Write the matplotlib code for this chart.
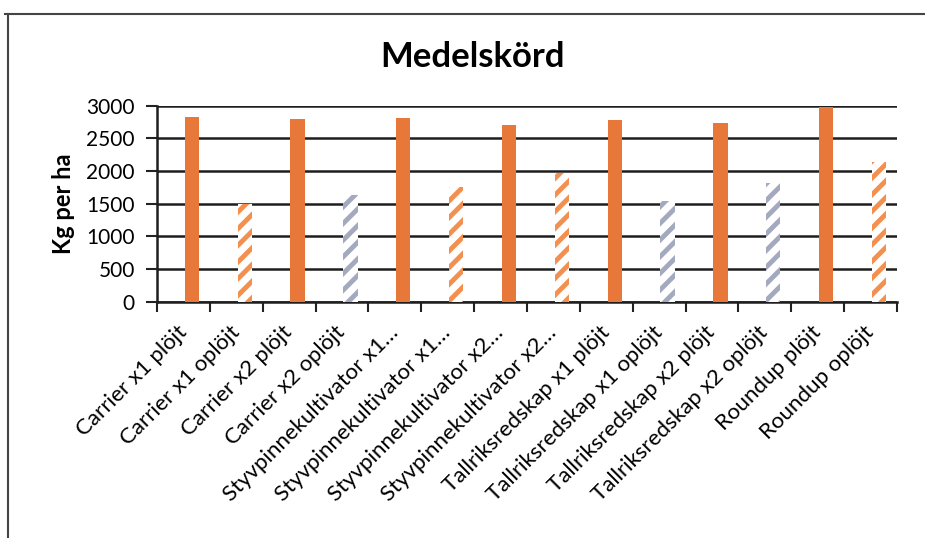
import matplotlib
matplotlib.use('Agg')
from matplotlib import pyplot as plt
from matplotlib.lines import Line2D

# average yield per treatment, kg per ha
labels = ['Carrier x1 plöjt', 'Carrier x1 oplöjt', 'Carrier x2 plöjt', 'Carrier x2 oplöjt',
          'Styvpinnekultivator x1…', 'Styvpinnekultivator x1…',
          'Styvpinnekultivator x2…', 'Styvpinnekultivator x2…',
          'Tallriksredskap x1 plöjt', 'Tallriksredskap x1 oplöjt',
          'Tallriksredskap x2 plöjt', 'Tallriksredskap x2 oplöjt',
          'Roundup plöjt', 'Roundup oplöjt']
yields = [2830, 1500, 2790, 1640, 2810, 1750, 2710, 1970, 2780, 1540, 2740, 1810, 2980, 2140]
bar_kind = ['solid', 'orange', 'solid', 'grey', 'solid', 'orange', 'solid', 'orange',
            'solid', 'grey', 'solid', 'grey', 'solid', 'orange']

plt.rcParams['font.family'] = ['Lato', 'DejaVu Sans']
plt.rcParams['hatch.linewidth'] = 3.5

fig = plt.figure(figsize=(9.25, 5.38), dpi=100)
ax = fig.add_axes([157 / 925, 1 - 301.7 / 538, 740 / 925, 196 / 538])

styles = {
    'solid': dict(color='#E8783A'),
    'orange': dict(facecolor='white', edgecolor='#F39050', hatch='//', linewidth=0),
    'grey': dict(facecolor='white', edgecolor='#A3AAC0', hatch='//', linewidth=0),
}

for i, (v, kind) in enumerate(zip(yields, bar_kind)):
    ax.bar(i + 0.16, v, width=0.27, zorder=3, **styles[kind])

ax.set_xlim(-0.5, len(labels) - 0.5)
ax.set_ylim(0, 3000)
ax.set_yticks(range(0, 3001, 500))
ax.yaxis.grid(True, color='#1E1E1E', linewidth=1.8, zorder=0)
ax.set_axisbelow(True)

# ticks between categories, labels under the centres
ax.set_xticks([i - 0.5 for i in range(len(labels) + 1)])
ax.set_xticklabels([])
ax.set_xticks(range(len(labels)), minor=True)
ax.set_xticklabels(labels, minor=True, rotation=45, ha='right', va='center',
                   rotation_mode='anchor', fontsize=16)
ax.tick_params(axis='x', which='major', length=7, width=1.5, color='#222222')
ax.tick_params(axis='x', which='minor', length=0, pad=20)
ax.tick_params(axis='y', length=8, width=1.5, color='#222222', labelsize=15, pad=8)

for s in ['top', 'right']:
    ax.spines[s].set_visible(False)
for s in ['left', 'bottom']:
    ax.spines[s].set_linewidth(1.8)
    ax.spines[s].set_color('#1E1E1E')

ax.set_ylabel('Kg per ha', fontsize=17, fontweight='bold', labelpad=8)
fig.text(0.511, 1 - 57 / 538, 'Medelskörd', ha='center', va='center',
         fontsize=25, fontweight='bold')

# chart frame
fig.add_artist(Line2D([5 / 925, 1], [1 - 14 / 538, 1 - 14 / 538], color='#444444', linewidth=1.5))
fig.add_artist(Line2D([8 / 925, 8 / 925], [0, 1 - 14 / 538], color='#444444', linewidth=1.5))

fig.savefig('out.png', dpi=100)
